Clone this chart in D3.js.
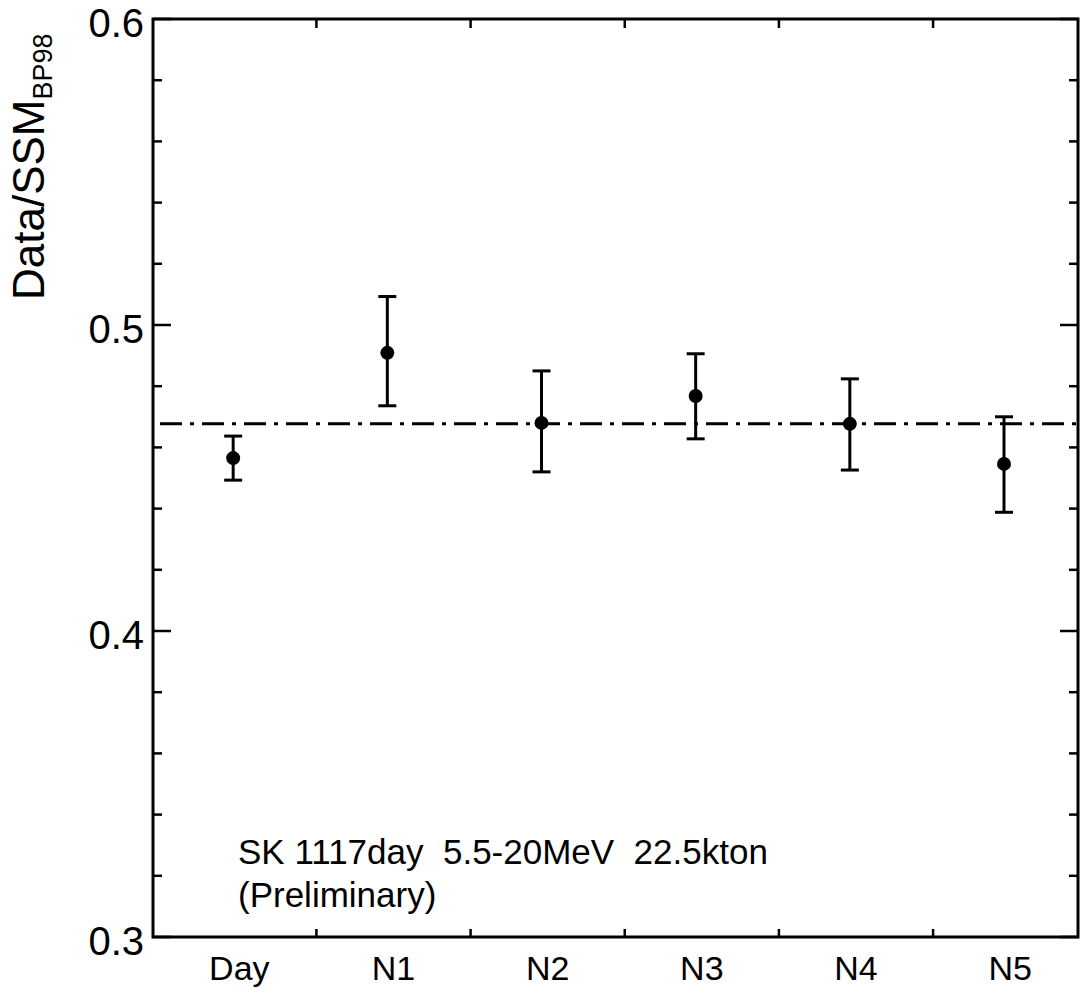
<!DOCTYPE html>
<html>
<head>
<meta charset="utf-8">
<script src="https://cdn.jsdelivr.net/npm/d3@7"></script>
<style>
  html, body { margin: 0; padding: 0; background: #fff; }
  svg { display: block; font-family: "Liberation Sans", Arial, Helvetica, sans-serif; }
</style>
</head>
<body>
<svg id="chart" width="1081" height="995"></svg>
<script>
// ---- data ----
const categories = ["Day", "N1", "N2", "N3", "N4", "N5"];
const values     = [0.4565, 0.4909, 0.4680, 0.4768, 0.4677, 0.4546];
const errLow     = [0.4493, 0.4736, 0.4520, 0.4628, 0.4526, 0.4388];
const errHigh    = [0.4637, 0.5093, 0.4850, 0.4906, 0.4824, 0.4700];
const average    = 0.4677;
const yTickLabels = [0.3, 0.4, 0.5, 0.6];
const yMinorTicks = d3.range(0.30, 0.6001, 0.02);
const xBoundaryTicks = [1, 2, 3, 4, 5];
const annotationLines = ["SK 1117day  5.5-20MeV  22.5kton", "(Preliminary)"];

(function () {
// ---- layout ----
const svg = d3.select("#chart");
const pL = 153, pR = 1078, pT = 19, pB = 937;

const x = d3.scaleLinear().domain([-0.06, 5.94]).range([pL, pR]);
const y = d3.scaleLinear().domain([0.3, 0.6]).range([pB, pT]);

const pointOffset = 0.46;  // marker position within each category slot
const labelOffset = 0.5;

// frame
svg.append("rect")
  .attr("x", pL).attr("y", pT)
  .attr("width", pR - pL).attr("height", pB - pT)
  .attr("fill", "none").attr("stroke", "#000").attr("stroke-width", 3);

// y ticks (left & right, inward)
const g = svg.append("g");
const isMajor = v => Math.abs(v * 10 - Math.round(v * 10)) < 1e-6;
yMinorTicks.forEach(v => {
  const len = isMajor(v) ? 18 : 9;
  const yy = y(v);
  g.append("line").attr("x1", pL).attr("x2", pL + len)
    .attr("y1", yy).attr("y2", yy).attr("stroke", "#000").attr("stroke-width", 2.5);
  g.append("line").attr("x1", pR).attr("x2", pR - len)
    .attr("y1", yy).attr("y2", yy).attr("stroke", "#000").attr("stroke-width", 2.5);
});

// x ticks (top & bottom, inward)
xBoundaryTicks.forEach(v => {
  const xx = x(v);
  g.append("line").attr("x1", xx).attr("x2", xx)
    .attr("y1", pB).attr("y2", pB - 8).attr("stroke", "#000").attr("stroke-width", 2.5);
  g.append("line").attr("x1", xx).attr("x2", xx)
    .attr("y1", pT).attr("y2", pT + 9).attr("stroke", "#000").attr("stroke-width", 2.5);
});

// y tick labels
svg.append("g").selectAll("text").data(yTickLabels).join("text")
  .attr("x", pL - 9)
  .attr("y", d => y(d) + 18)
  .attr("text-anchor", "end")
  .attr("font-size", 40)
  .text(d => d3.format(".1f")(d));

// x category labels
svg.append("g").selectAll("text").data(categories).join("text")
  .attr("x", (d, i) => x(i + labelOffset))
  .attr("y", 980)
  .attr("text-anchor", "middle")
  .attr("font-size", 34)
  .text(d => d);

// y axis title
const yt = svg.append("text")
  .attr("transform", "translate(44,300) rotate(-90)")
  .attr("font-size", 44);
yt.append("tspan").text("Data/SSM");
yt.append("tspan").attr("font-size", 27).attr("dy", 8).text("BP98");

// average dash-dot line
svg.append("line")
  .attr("x1", pL).attr("x2", pR)
  .attr("y1", y(average)).attr("y2", y(average))
  .attr("stroke", "#000").attr("stroke-width", 3)
  .attr("stroke-dasharray", "22,8,4,8")
  .attr("stroke-dashoffset", 35);

// error bars
const eb = svg.append("g").attr("stroke", "#000").attr("stroke-width", 3);
categories.forEach((c, i) => {
  const xx = x(i + pointOffset);
  eb.append("line").attr("x1", xx).attr("x2", xx)
    .attr("y1", y(errLow[i])).attr("y2", y(errHigh[i]));
  eb.append("line").attr("x1", xx - 9).attr("x2", xx + 9)
    .attr("y1", y(errLow[i])).attr("y2", y(errLow[i]));
  eb.append("line").attr("x1", xx - 9).attr("x2", xx + 9)
    .attr("y1", y(errHigh[i])).attr("y2", y(errHigh[i]));
});

// markers
svg.append("g").selectAll("circle").data(values).join("circle")
  .attr("cx", (d, i) => x(i + pointOffset))
  .attr("cy", d => y(d))
  .attr("r", 7)
  .attr("fill", "#000");

// annotation
const ann = svg.append("text").attr("font-size", 35)
  .style("white-space", "pre");
annotationLines.forEach((t, i) => {
  ann.append("tspan").attr("x", 238).attr("y", 864 + i * 43).text(t);
});
})();
</script>
</body>
</html>
